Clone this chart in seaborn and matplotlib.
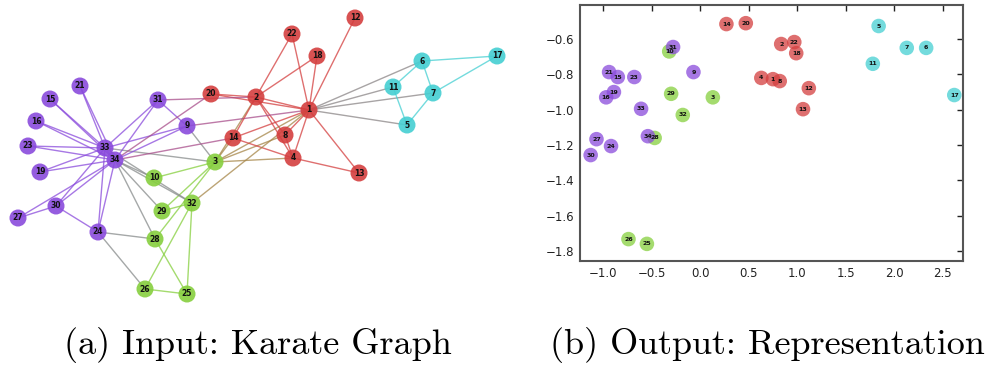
import numpy as np
import pandas as pd
import matplotlib
matplotlib.use("Agg")
import matplotlib.pyplot as plt
import matplotlib.colors as mcolors
import seaborn as sns

sns.set_style("white")

# ---------------- data ----------------
node_ids = list(range(1, 35))
community = {
    "red": [1, 2, 4, 8, 12, 13, 14, 18, 20, 22],
    "cyan": [5, 6, 7, 11, 17],
    "green": [3, 10, 25, 26, 28, 29, 32],
    "purple": [9, 15, 16, 19, 21, 23, 24, 27, 30, 31, 33, 34],
}
palette = {"red": "#d43f3f", "cyan": "#45cfd2", "green": "#86cf3e", "purple": "#8a4bdc"}

# graph layout (left panel), node -> (x, y)
graph_x = {21: 80, 15: 50, 16: 36, 23: 28, 19: 40, 33: 105, 34: 115, 31: 158, 9: 187,
           20: 211, 2: 256, 14: 233, 3: 215, 10: 154, 32: 192, 29: 162, 28: 155,
           24: 98, 30: 56, 27: 18, 26: 145, 25: 187, 22: 292, 18: 317, 12: 355,
           1: 309, 8: 285, 4: 293, 13: 359, 6: 422, 11: 393, 7: 433, 5: 407, 17: 497}
graph_y = {21: 86, 15: 99, 16: 121, 23: 146, 19: 172, 33: 148, 34: 160, 31: 100, 9: 126,
           20: 94, 2: 97, 14: 138, 3: 162, 10: 178, 32: 203, 29: 211, 28: 239,
           24: 232, 30: 206, 27: 218, 26: 289, 25: 294, 22: 34, 18: 56, 12: 18,
           1: 110, 8: 135, 4: 158, 13: 173, 6: 61, 11: 87, 7: 93, 5: 125, 17: 56}

edges = [(2, 1), (3, 1), (3, 2), (4, 1), (4, 2), (4, 3), (5, 1), (6, 1), (7, 1), (7, 5), (7, 6),
         (8, 1), (8, 2), (8, 3), (8, 4), (9, 1), (9, 3), (10, 3), (11, 1), (11, 5), (11, 6),
         (12, 1), (13, 1), (13, 4), (14, 1), (14, 2), (14, 3), (14, 4), (17, 6), (17, 7),
         (18, 1), (18, 2), (20, 1), (20, 2), (22, 1), (22, 2), (26, 24), (26, 25),
         (28, 3), (28, 24), (28, 25), (29, 3), (30, 24), (30, 27), (31, 2), (31, 9),
         (32, 1), (32, 25), (32, 26), (32, 29),
         (33, 3), (33, 9), (33, 15), (33, 16), (33, 19), (33, 21), (33, 23), (33, 24),
         (33, 30), (33, 31), (33, 32),
         (34, 9), (34, 10), (34, 14), (34, 15), (34, 16), (34, 19), (34, 20), (34, 21),
         (34, 23), (34, 24), (34, 27), (34, 28), (34, 29), (34, 30), (34, 31), (34, 32),
         (34, 33)]

# embedding (right panel)
emb_x = {14: 0.27, 20: 0.47, 31: -0.28, 10: -0.32, 21: -0.94, 15: -0.85, 23: -0.68,
         9: -0.07, 19: -0.89, 16: -0.97, 29: -0.30, 3: 0.13, 33: -0.61, 32: -0.18,
         34: -0.54, 28: -0.47, 27: -1.07, 24: -0.92, 30: -1.13, 26: -0.74, 25: -0.55,
         2: 0.835, 22: 0.97, 18: 0.99, 4: 0.63, 1: 0.75, 8: 0.82, 12: 1.12, 13: 1.06,
         5: 1.84, 7: 2.13, 6: 2.33, 11: 1.78, 17: 2.62}
emb_y = {14: -0.515, 20: -0.51, 31: -0.645, 10: -0.67, 21: -0.787, 15: -0.815, 23: -0.815,
         9: -0.787, 19: -0.90, 16: -0.93, 29: -0.91, 3: -0.93, 33: -0.995, 32: -1.03,
         34: -1.15, 28: -1.16, 27: -1.167, 24: -1.206, 30: -1.257, 26: -1.733, 25: -1.76,
         2: -0.628, 22: -0.617, 18: -0.68, 4: -0.82, 1: -0.827, 8: -0.838, 12: -0.878,
         13: -0.997, 5: -0.526, 7: -0.65, 6: -0.65, 11: -0.74, 17: -0.917}

x_ticks = [-1.0, -0.5, 0.0, 0.5, 1.0, 1.5, 2.0, 2.5]
y_ticks = [-0.6, -0.8, -1.0, -1.2, -1.4, -1.6, -1.8]
captions = ["(a) Input: Karate Graph", "(b) Output: Representation"]

# ---------------- build frames ----------------
node_comm = {n: c for c, ns in community.items() for n in ns}
df = pd.DataFrame({
    "node": node_ids,
    "comm": [node_comm[n] for n in node_ids],
    "gx": [graph_x[n] for n in node_ids],
    "gy": [graph_y[n] for n in node_ids],
    "ex": [emb_x[n] for n in node_ids],
    "ey": [emb_y[n] for n in node_ids],
})

fig = plt.figure(figsize=(9.9, 3.65), dpi=100)

# ---------------- left: graph ----------------
axg = fig.add_axes([0, 55 / 365, 520 / 990, 310 / 365])
axg.axis("off")
for a, b in edges:
    ca = np.array(mcolors.to_rgb(palette[node_comm[a]]))
    cb = np.array(mcolors.to_rgb(palette[node_comm[b]]))
    if node_comm[a] != node_comm[b]:
        col = (ca + cb) / 2 * 0.85 + 0.15 * np.array([0.5, 0.5, 0.5])
    else:
        col = ca
    axg.plot([graph_x[a], graph_x[b]], [graph_y[a], graph_y[b]], color=col,
             lw=1.0, alpha=0.75, zorder=1)
sns.scatterplot(data=df, x="gx", y="gy", hue="comm", palette=palette, s=150,
                alpha=0.9, edgecolor="none", legend=False, ax=axg, zorder=3)
for _, r in df.iterrows():
    axg.text(r.gx, r.gy, str(r.node), ha="center", va="center", fontsize=5.5,
             fontweight="bold", color="#111111", zorder=4)
axg.set_xlim(0, 520)
axg.set_ylim(310, 0)
axg.set_xlabel("")
axg.set_ylabel("")

# ---------------- right: embedding ----------------
axe = fig.add_axes([580 / 990, (365 - 261) / 365, (963 - 580) / 990, (261 - 5) / 365])
sns.scatterplot(data=df, x="ex", y="ey", hue="comm", palette=palette, s=110,
                alpha=0.75, edgecolor="none", legend=False, ax=axe, zorder=3)
for _, r in df.iterrows():
    axe.text(r.ex, r.ey, str(r.node), ha="center", va="center", fontsize=4.5,
             fontweight="bold", color="#111111", zorder=4)
axe.set_xlim(-1.24, 2.71)
axe.set_ylim(-1.857, -0.407)
axe.set_xticks(x_ticks)
axe.set_yticks(y_ticks)
axe.set_xticklabels([f"{t:.1f}".replace("-", "\u2212") for t in x_ticks])
axe.set_yticklabels([f"{t:.1f}".replace("-", "\u2212") for t in y_ticks])
axe.tick_params(direction="in", top=True, right=True, length=4, width=1,
                labelsize=8.5, colors="#222222", pad=4)
for sp in axe.spines.values():
    sp.set_color("#555555")
    sp.set_linewidth(1.5)
    sp.set_visible(True)
axe.set_xlabel("")
axe.set_ylabel("")

# ---------------- captions ----------------
fig.text(258 / 990, 1 - 345 / 365, captions[0], ha="center", va="center",
         fontsize=26, family="cmr10", color="black")
fig.text(767 / 990, 1 - 345 / 365, captions[1], ha="center", va="center",
         fontsize=26, family="cmr10", color="black")

fig.savefig("out.png", dpi=100)
